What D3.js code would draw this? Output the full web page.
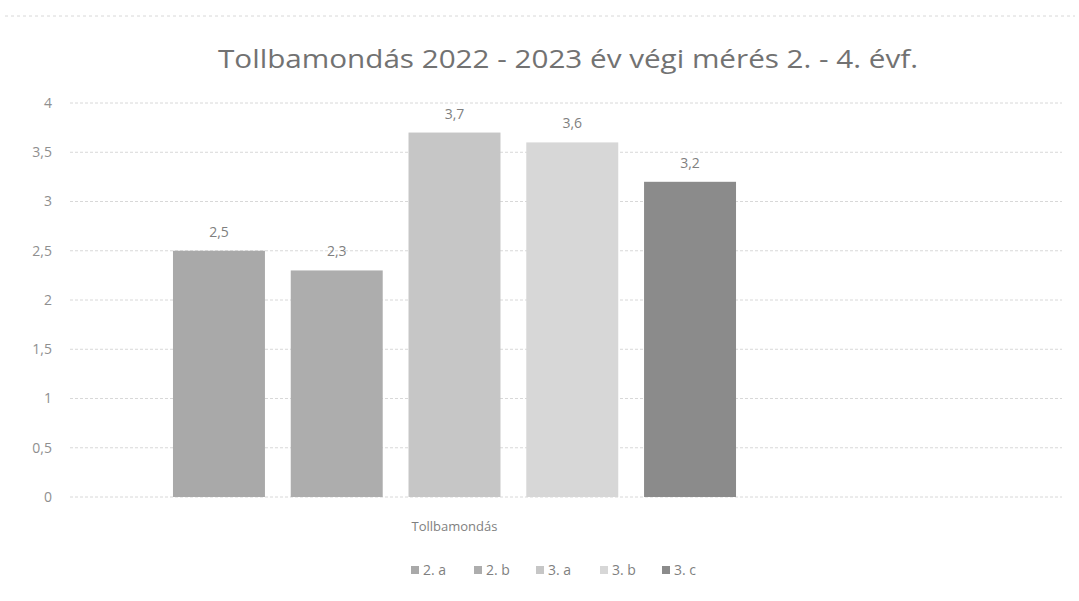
<!DOCTYPE html>
<html>
<head>
<meta charset="utf-8">
<script src="https://cdn.jsdelivr.net/npm/d3@7"></script>
<style>
  html, body { margin: 0; padding: 0; background: #fff; }
  svg { display: block; font-family: "Open Sans", "Liberation Sans", sans-serif; }
</style>
</head>
<body>
<svg id="chart" width="1079" height="601"></svg>
<script>
const title = "Tollbamondás 2022 - 2023 év végi mérés 2. - 4. évf.";
const categories = ["Tollbamondás"];
const seriesNames = ["2. a", "2. b", "3. a", "3. b", "3. c"];
const seriesValues = [2.5, 2.3, 3.7, 3.6, 3.2];
const seriesColors = ["#a9a9a9", "#adadad", "#c6c6c6", "#d7d7d7", "#8b8b8b"];
const yTicks = [0, 0.5, 1, 1.5, 2, 2.5, 3, 3.5, 4];

const svg = d3.select("#chart");
const fmt = v => String(v).replace(".", ",");

const plot = { left: 70, right: 1062, top: 103, bottom: 497 };

// faint page border artefacts
svg.append("line").attr("x1", 5).attr("x2", 1075).attr("y1", 16).attr("y2", 16)
  .attr("stroke", "#d8d8d8").attr("stroke-dasharray", "3,3").attr("stroke-width", 1);

const y = d3.scaleLinear().domain([0, 4]).range([plot.bottom, plot.top]);
const x0 = d3.scaleBand().domain(categories).range([75, 834]).paddingOuter(0.174).paddingInner(0);
const x1 = d3.scaleBand().domain(seriesNames).range([0, x0.bandwidth()]).paddingInner(0.219).paddingOuter(0);

// gridlines
svg.append("g").selectAll("line").data(yTicks).join("line")
  .attr("x1", plot.left).attr("x2", plot.right)
  .attr("y1", d => y(d)).attr("y2", d => y(d))
  .attr("stroke", "#d8d8d8").attr("stroke-width", 1).attr("stroke-dasharray", "3,2");

// y axis
const yAxis = d3.axisLeft(y).tickValues(yTicks).tickFormat(fmt).tickSize(0).tickPadding(0);
const gy = svg.append("g").attr("transform", `translate(52,0)`).call(yAxis);
gy.select(".domain").remove();
gy.selectAll("text").attr("fill", "#8f8f8f").attr("font-size", 14).attr("font-family", "Open Sans, sans-serif");

// bars
const gCat = svg.append("g").selectAll("g").data(categories).join("g")
  .attr("transform", d => `translate(${x0(d)},0)`);
gCat.selectAll("rect").data(seriesNames.map((n, i) => ({ n, v: seriesValues[i], c: seriesColors[i] })))
  .join("rect")
  .attr("x", d => x1(d.n)).attr("width", x1.bandwidth())
  .attr("y", d => y(d.v)).attr("height", d => y(0) - y(d.v))
  .attr("fill", d => d.c);
gCat.selectAll("text.lbl").data(seriesNames.map((n, i) => ({ n, v: seriesValues[i] })))
  .join("text").attr("class", "lbl")
  .attr("x", d => x1(d.n) + x1.bandwidth() / 2).attr("y", d => y(d.v) - 14)
  .attr("text-anchor", "middle").attr("font-size", 14).attr("fill", "#7f7f7f")
  .text(d => fmt(d.v));

// x axis category label
const xAxis = d3.axisBottom(x0).tickSize(0).tickPadding(0);
const gx = svg.append("g").attr("transform", `translate(0,${plot.bottom + 25})`).call(xAxis);
gx.select(".domain").remove();
gx.selectAll("text").attr("fill", "#7f7f7f").attr("font-size", 13).attr("font-family", "Open Sans, sans-serif");

// title
svg.append("text").attr("x", 568).attr("y", 68).attr("text-anchor", "middle")
  .attr("font-size", 25).attr("fill", "#727272")
  .attr("textLength", 700).attr("lengthAdjust", "spacingAndGlyphs").text(title);

// legend
const legendX = [411, 474, 536, 600, 662];
const lg = svg.append("g").selectAll("g").data(seriesNames).join("g")
  .attr("transform", (d, i) => `translate(${legendX[i]},572)`);
lg.append("rect").attr("x", 0).attr("y", -6).attr("width", 8).attr("height", 8)
  .attr("fill", (d, i) => seriesColors[i]);
lg.append("text").attr("x", 12).attr("y", 3).attr("font-size", 14).attr("fill", "#7f7f7f").text(d => d);
</script>
</body>
</html>
